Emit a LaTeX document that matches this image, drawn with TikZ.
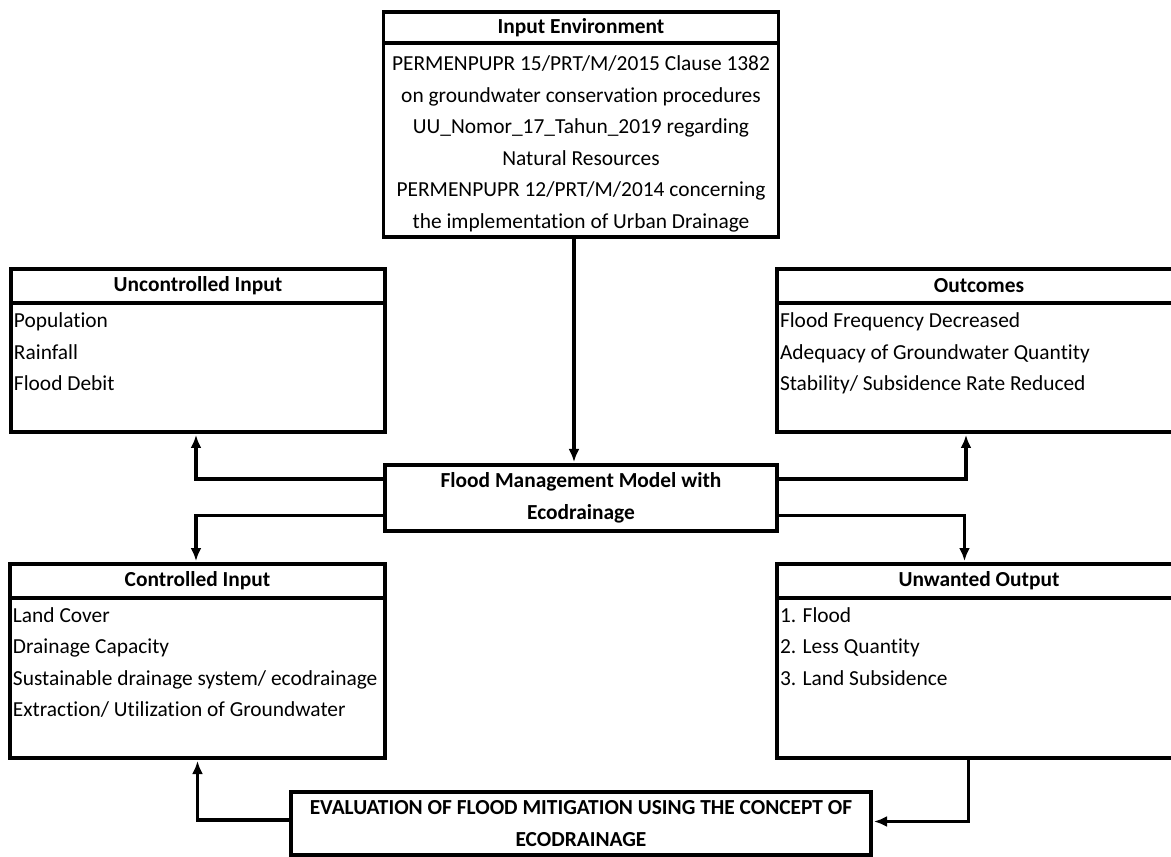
\documentclass[tikz,border=0pt]{standalone}
\usepackage{fontspec}
\setmainfont{Carlito}[Ligatures=NoCommon]
\usetikzlibrary{positioning,arrows.meta}

% list text of a box, top aligned: [first line strut]{width}{height}{lines}
\newcommand{\celltext}[4][12.5pt]{\parbox[t][#3][t]{#2}{\raggedright\rule{0pt}{#1}#4}}

\begin{document}
\begin{tikzpicture}[
  x=1pt, y=1pt,
  font=\fontsize{10.7}{15.75}\selectfont,
  headbox/.style={rectangle, draw=black, line width=1.6pt, outer sep=0pt, inner sep=0pt,
                  font=\fontsize{10.7}{15.75}\selectfont\bfseries, minimum height=17pt, align=center},
  bodybox/.style={rectangle, draw=black, line width=1.6pt, outer sep=0pt, inner xsep=1.5pt, inner ysep=0pt},
  flow/.style={draw, line width=1.6pt, -{Latex[length=6.5pt,width=5.5pt]}, shorten >=1.5pt}
]
  \useasboundingbox (-290.5,-179) rectangle (295,249);

  \node[headbox, minimum width=196pt, minimum height=33pt] (FM) at (0,0) {Flood Management Model with\\Ecodrainage};

  \node[bodybox] (IEbody) [above=114pt of FM] {\celltext[14pt]{194.5pt}{97pt}{\centering
    PERMENPUPR 15/PRT/M/2015 Clause 1382\\on groundwater conservation procedures\\
    UU\_Nomor\_17\_Tahun\_2019 regarding\\Natural Resources\\
    PERMENPUPR 12/PRT/M/2014 concerning\\the implementation of Urban Drainage}};
  \node[headbox, minimum width=197.5pt, minimum height=15.5pt] (IEhead) [above=0pt of IEbody] {Input Environment};

  \node[bodybox] (UIbody) [above left=16.5pt and 0pt of FM.north west] {\celltext{184pt}{64.5pt}{Population\\Rainfall\\Flood Debit}};
  \node[headbox, minimum width=187pt] (UIhead) [above=0pt of UIbody] {Uncontrolled Input};

  \node[bodybox] (OCbody) [above right=16.5pt and 0pt of FM.north east] {\celltext{199pt}{64.5pt}{Flood Frequency Decreased\\Adequacy of Groundwater Quantity\\Stability/ Subsidence Rate Reduced}};
  \node[headbox, minimum width=202pt] (OChead) [above=0pt of OCbody] {Outcomes};

  \node[headbox, minimum width=187.5pt] (CIhead) [below left=16.5pt and 0pt of FM.south west] {Controlled Input};
  \node[bodybox] (CIbody) [below=0pt of CIhead] {\celltext[12pt]{184.5pt}{80pt}{Land Cover\\Drainage Capacity\\
    \mbox{Sustainable drainage system/ ecodrainage}\\Extraction/ Utilization of Groundwater}};

  \node[headbox, minimum width=202pt] (UOhead) [below right=16.5pt and 0pt of FM.south east] {Unwanted Output};
  \node[bodybox] (UObody) [below=0pt of UOhead] {\celltext[12pt]{199pt}{80pt}{1. Flood\\2. Less Quantity\\3. Land Subsidence}};

  \node[headbox, minimum width=290pt, minimum height=31.5pt] (EV) [below=130.5pt of FM] {EVALUATION OF FLOOD MITIGATION USING THE CONCEPT OF\\ECODRAINAGE};

  \draw[flow] ([xshift=-3.5pt]IEbody.south) -- ([xshift=-3.5pt]IEbody.south |- FM.north);
  \draw[flow] ([yshift=9.5pt]FM.west) -| ([xshift=-1pt]UIbody.south);
  \draw[flow] ([yshift=9.5pt]FM.east) -| ([xshift=-6.5pt]OCbody.south);
  \draw[flow] ([yshift=-8.75pt]FM.west) -| ([xshift=-0.75pt]CIhead.north);
  \draw[flow] ([yshift=-8.75pt]FM.east) -| ([xshift=-7.25pt]UOhead.north);
  \draw[flow] ([xshift=-5.25pt]UObody.south) |- ([yshift=1pt]EV.east);
  \draw[flow] ([yshift=1.75pt]EV.west) -| (CIbody.south);
\end{tikzpicture}
\end{document}
